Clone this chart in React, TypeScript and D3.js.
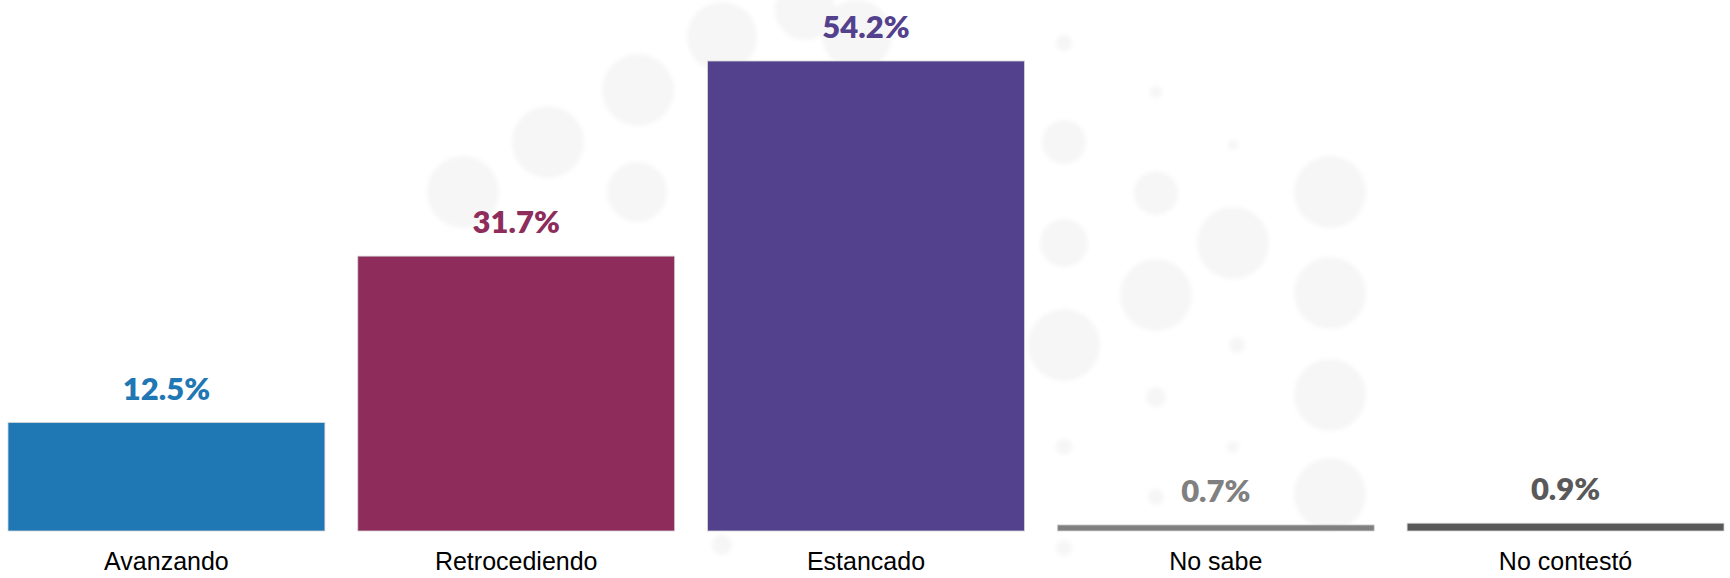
import React, { useEffect, useRef } from 'react';
import * as d3 from 'd3';

// chart data
const categories = ['Avanzando', 'Retrocediendo', 'Estancado', 'No sabe', 'No contestó'];
const values = [12.5, 31.7, 54.2, 0.7, 0.9];
const barColors = ['#1f77b4', '#8e2d5b', '#53418d', '#808080', '#595959'];

// faint logo watermark behind the bars: [x, y, r]
const watermarkDots = [
    [805, 10, 30], [722, 37, 35], [857, 35, 35], [638, 90, 36], [548, 142, 36],
    [463, 192, 36], [637, 192, 30], [1064, 43, 8], [1156, 92, 6], [1064, 142, 22],
    [1233, 145, 5], [1156, 193, 22], [1233, 243, 36], [1330, 192, 36], [1064, 243, 24],
    [1156, 295, 36], [1330, 293, 36], [1064, 345, 36], [1237, 345, 8], [1156, 397, 10],
    [1330, 395, 36], [1064, 447, 8], [1233, 447, 6], [1156, 497, 8], [1330, 494, 36],
    [1064, 548, 8], [722, 545, 10]
];

const App: React.FC = () => {
    const ref = useRef<SVGSVGElement>(null);

    useEffect(() => {
        const width = 1730;
        const height = 578;
        const svg = d3.select(ref.current);
        svg.selectAll('*').remove();

        const defs = svg.append('defs');
        defs.append('filter')
            .attr('id', 'soft')
            .append('feGaussianBlur')
            .attr('stdDeviation', 2);

        // watermark
        svg.append('g')
            .attr('filter', 'url(#soft)')
            .selectAll('circle')
            .data(watermarkDots)
            .enter()
            .append('circle')
            .attr('cx', d => d[0])
            .attr('cy', d => d[1])
            .attr('r', d => d[2])
            .attr('fill', '#f6f6f6');

        const xScale = d3.scaleBand()
            .domain(categories)
            .range([8, 1724])
            .paddingInner(0.094)
            .paddingOuter(0);

        const yScale = d3.scaleLinear()
            .domain([0, d3.max(values) as number])
            .range([531, 61]);

        const rows = categories.map((c, i) => ({ cat: c, value: values[i], color: barColors[i] }));

        const bar = svg.append('g').selectAll('g')
            .data(rows)
            .enter()
            .append('g');

        //bars
        bar.append('rect')
            .attr('x', d => xScale(d.cat) as number)
            .attr('y', d => yScale(d.value))
            .attr('width', xScale.bandwidth())
            .attr('height', d => yScale(0) - yScale(d.value))
            .attr('fill', d => d.color)
            .attr('stroke', '#d6d6d6')
            .attr('stroke-width', 0.8);

        //value labels
        bar.append('text')
            .attr('x', d => (xScale(d.cat) as number) + xScale.bandwidth() / 2)
            .attr('y', d => yScale(d.value) - 23)
            .attr('text-anchor', 'middle')
            .attr('font-family', 'Lato, "Open Sans", sans-serif')
            .attr('font-weight', 800)
            .attr('font-size', 31)
            .attr('fill', d => d.color)
            .text(d => `${d.value.toFixed(1)}%`);

        //category labels
        bar.append('text')
            .attr('x', d => (xScale(d.cat) as number) + xScale.bandwidth() / 2)
            .attr('y', 570)
            .attr('text-anchor', 'middle')
            .attr('font-family', '"Liberation Sans", Arial, sans-serif')
            .attr('font-size', 25)
            .attr('fill', '#000')
            .text(d => d.cat);

        svg.attr('width', width).attr('height', height);
    }, []);

    return (
        <svg
            ref={ref}
            width={1730}
            height={578}
            style={{ position: 'absolute', left: 0, top: 0, background: '#fff' }}
        ></svg>
    );
};

export default App;
